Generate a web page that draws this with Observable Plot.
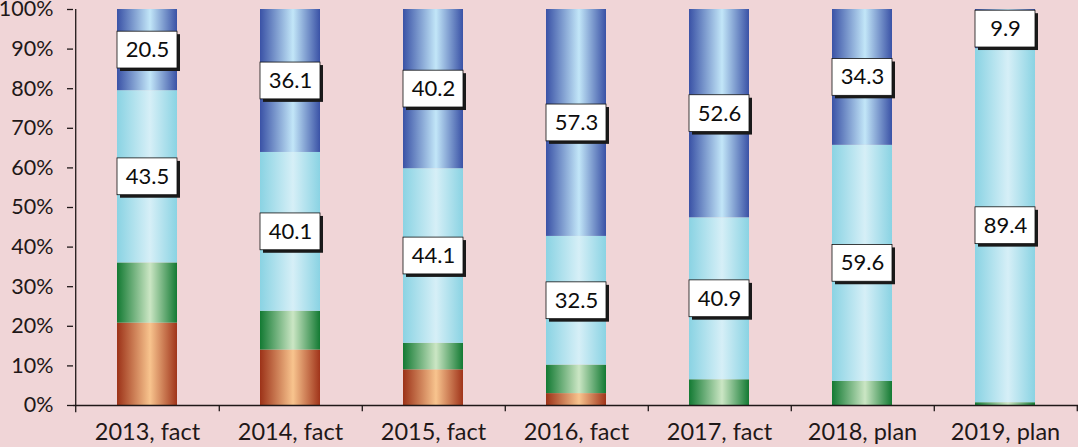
<!DOCTYPE html>
<html>
<head>
<meta charset="utf-8">
<script src="https://cdn.jsdelivr.net/npm/d3@7"></script>
<script src="https://cdn.jsdelivr.net/npm/@observablehq/plot@0.6"></script>
<style>
  html, body { margin: 0; padding: 0; background: #f0d5d7; }
  #chart svg { display: block; }
</style>
</head>
<body>
<div id="chart"></div>
<script>
const categories = ["2013, fact", "2014, fact", "2015, fact", "2016, fact", "2017, fact", "2018, plan", "2019, plan"];
const seriesNames = ["s1", "s2", "s3", "s4"];
const s1 = [20.8, 14.0, 9.0, 3.0, 0.0, 0.0, 0.0];   // orange
const s2 = [15.2, 9.8, 6.7, 7.2, 6.5, 6.1, 0.7];    // green
const s3 = [43.5, 40.1, 44.1, 32.5, 40.9, 59.6, 89.4]; // light blue
const s4 = [20.5, 36.1, 40.2, 57.3, 52.6, 34.3, 9.9];  // dark blue
const labelSeries = ["s3", "s4"];
const yTicks = [0, 10, 20, 30, 40, 50, 60, 70, 80, 90, 100];

const seriesValues = {s1, s2, s3, s4};
const fills = {s1: "url(#g1)", s2: "url(#g2)", s3: "url(#g3)", s4: "url(#g4)"};

const rows = [];
categories.forEach((c, i) => {
  let base = 0;
  seriesNames.forEach(s => {
    const v = seriesValues[s][i];
    rows.push({cat: c, series: s, value: v, y1: base, y2: base + v, mid: base + v / 2});
    base += v;
  });
});
const labels = rows.filter(r => labelSeries.includes(r.series));
const boxHalf = 4.65;

const W = 1078, H = 447;
const mL = 73, mR = 0;
const step = (W - mL - mR) / categories.length;
const ink = "#1f1818";

const svg = Plot.plot({
  width: W,
  height: H,
  marginLeft: mL,
  marginRight: mR,
  marginTop: 9,
  marginBottom: 42,
  style: {background: "#f0d5d7", fontFamily: "Lato, 'Open Sans', sans-serif", color: ink},
  x: {type: "band", domain: categories, paddingInner: 0.582, paddingOuter: 0.291, label: null},
  y: {domain: [0, 100], label: null},
  marks: [
    Plot.rectY(rows.filter(r => r.value > 0), {
      x: "cat", y1: "y1", y2: "y2",
      fill: d => fills[d.series]
    }),
    // label boxes: shadow then box
    Plot.rect(labels, {x: "cat", y1: d => d.mid - boxHalf, y2: d => d.mid + boxHalf, fill: "#1a1a1a", dx: 3, dy: 3}),
    Plot.rect(labels, {x: "cat", y1: d => d.mid - boxHalf, y2: d => d.mid + boxHalf, fill: "white", stroke: "#111", strokeWidth: 0.8}),
    Plot.text(labels, {x: "cat", y: "mid", text: d => d.value.toFixed(1), fontSize: 22, fill: "#0d0d0d"}),
    // axes
    Plot.ruleX([categories[0]], {x: d => d, dx: -step / 2, y1: 100, y2: -1.8, stroke: ink, strokeWidth: 1.3}),
    Plot.ruleY([0], {stroke: ink, strokeWidth: 1.3}),
    Plot.ruleX(categories, {x: d => d, dx: step / 2, y1: 0, y2: -1.6, stroke: ink, strokeWidth: 1.3}),
    Plot.axisY({ticks: yTicks, tickFormat: d => d + "%", tickSize: 6, tickPadding: 14, fontSize: 21.5, stroke: ink, fill: ink, strokeWidth: 1.3}),
    Plot.axisX({tickSize: 0, tickPadding: 18, fontSize: 23.5, fill: ink})
  ]
});

const defs = d3.select(svg).insert("defs", ":first-child");
function grad(id, edgeL, mid, edgeR, midPos) {
  const g = defs.append("linearGradient").attr("id", id).attr("x1", 0).attr("x2", 1).attr("y1", 0).attr("y2", 0);
  g.append("stop").attr("offset", "0%").attr("stop-color", edgeL);
  g.append("stop").attr("offset", midPos).attr("stop-color", mid);
  g.append("stop").attr("offset", "100%").attr("stop-color", edgeR);
}
grad("g1", "#9c3218", "#f8c48e", "#a0341a", "55%");
grad("g2", "#137a33", "#cbe6c4", "#137a33", "55%");
grad("g3", "#8ad3e3", "#d6eff7", "#8ad3e3", "55%");
grad("g4", "#3a52a6", "#c2e6f8", "#3a52a6", "55%");

document.getElementById("chart").appendChild(svg);
</script>
</body>
</html>
